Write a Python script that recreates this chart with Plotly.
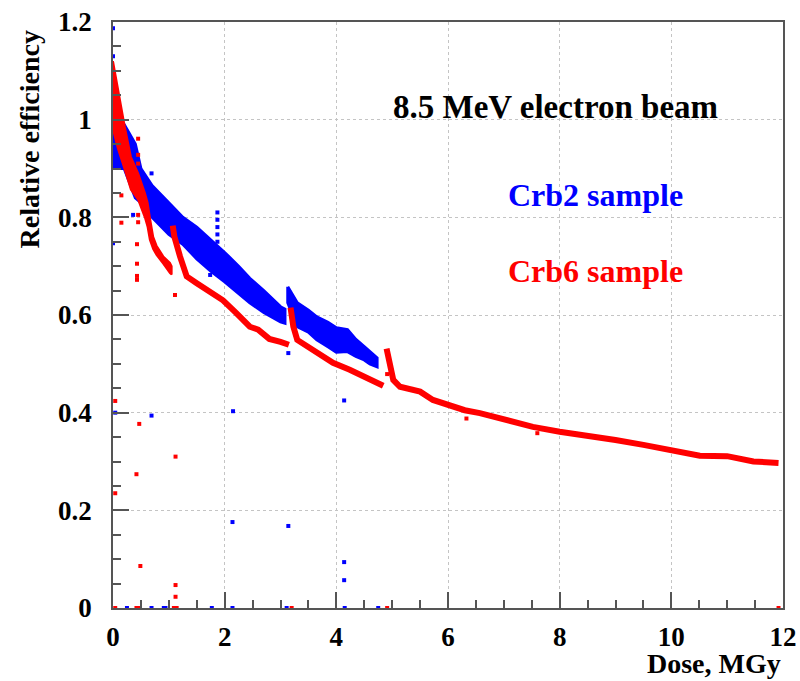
import plotly.graph_objects as go

# Crb2 sample (blue) - band, two segments
crb2_x1 = [0.0, 0.1, 0.2, 0.3, 0.4, 0.5, 0.7, 1.0, 1.25, 1.5, 1.75, 2.0, 2.25, 2.45, 2.7, 3.0, 3.08]
crb2_hi1 = [1.10, 1.00, 0.99, 0.97, 0.95, 0.90, 0.865, 0.83, 0.80, 0.78, 0.755, 0.728, 0.70, 0.675, 0.65, 0.617, 0.612]
crb2_lo1 = [0.90, 0.90, 0.90, 0.87, 0.84, 0.83, 0.80, 0.765, 0.745, 0.715, 0.69, 0.668, 0.645, 0.625, 0.605, 0.586, 0.583]
crb2_x2 = [3.13, 3.3, 3.5, 3.65, 3.85, 4.0, 4.2, 4.35, 4.5, 4.6, 4.73]
crb2_hi2 = [0.658, 0.625, 0.61, 0.596, 0.585, 0.574, 0.57, 0.55, 0.535, 0.525, 0.512]
crb2_lo2 = [0.625, 0.576, 0.565, 0.549, 0.535, 0.524, 0.525, 0.515, 0.508, 0.50, 0.494]

# Crb6 sample (red) - first part is a wide band, the rest a narrow track
crb6_x1 = [0.0, 0.09, 0.21, 0.32, 0.45, 0.57, 0.62, 0.66, 0.72, 0.78, 0.9, 1.02, 1.05]
crb6_hi1 = [1.12, 1.06, 0.986, 0.924, 0.89, 0.85, 0.83, 0.80, 0.76, 0.742, 0.72, 0.707, 0.70]
crb6_lo1 = [0.98, 0.94, 0.898, 0.857, 0.836, 0.80, 0.78, 0.754, 0.735, 0.723, 0.705, 0.686, 0.683]
crb6_x2 = [1.07, 1.1, 1.2, 1.32, 1.5, 1.68, 1.97, 2.2, 2.45, 2.6, 2.8, 3.0, 3.15]
crb6_y2 = [0.783, 0.76, 0.72, 0.679, 0.665, 0.651, 0.63, 0.605, 0.576, 0.57, 0.551, 0.545, 0.539]
crb6_x3 = [3.18, 3.23, 3.3, 3.5, 3.65, 3.94, 4.24, 4.54, 4.7, 4.84]
crb6_y3 = [0.615, 0.576, 0.549, 0.535, 0.522, 0.502, 0.488, 0.471, 0.463, 0.455]
crb6_x4 = [4.9, 4.95, 5.02, 5.14, 5.3, 5.5, 5.73, 6.0, 6.3, 6.57, 7.0, 7.52, 8.0, 8.48,
           9.0, 9.5, 10.0, 10.51, 11.0, 11.47, 11.92]
crb6_y4 = [0.531, 0.50, 0.467, 0.453, 0.449, 0.443, 0.426, 0.416, 0.405, 0.399, 0.385, 0.371,
           0.361, 0.354, 0.344, 0.334, 0.323, 0.312, 0.311, 0.30, 0.297]

# isolated points
crb2_out_x = [0.0, 0.0, 0.0, 0.69, 0.36, 0.04, 0.69, 2.15, 2.14, 3.14, 3.14, 4.14, 4.14, 4.14,
              1.87, 1.87, 1.87, 1.87, 1.87, 1.87, 1.74,
              0.25, 0.69, 0.91, 0.94, 1.77, 2.14, 3.11, 4.15, 4.75]
crb2_out_y = [1.187, 1.13, 0.747, 0.89, 0.805, 0.40, 0.394, 0.403, 0.176, 0.168, 0.522, 0.425, 0.094, 0.057,
              0.735, 0.75, 0.765, 0.78, 0.795, 0.81, 0.682,
              0.0, 0.0, 0.0, 0.0, 0.0, 0.0, 0.0, 0.0, 0.0]
crb6_out_x = [0.04, 0.04, 0.47, 0.42, 0.49, 1.12, 1.12, 1.12, 4.91,
              0.45, 0.45, 0.45, 0.15, 0.15, 0.45, 0.45, 0.43, 0.43, 0.43, 0.43, 1.11,
              6.33, 7.6,
              0.04, 0.42, 0.48, 1.09, 1.14, 3.2, 4.91, 11.92]
crb6_out_y = [0.424, 0.235, 0.377, 0.274, 0.086, 0.31, 0.047, 0.023, 0.479,
              0.961, 0.928, 0.91, 0.845, 0.789, 0.805, 0.79, 0.745, 0.705, 0.68, 0.672, 0.641,
              0.388, 0.358,
              0.0, 0.0, 0.0, 0.0, 0.0, 0.0, 0.0, 0.0]

BLUE = "#0000ff"
RED = "#ff0000"
FONT = "Liberation Serif"


def band(segments):
    # closed outline of each band segment, segments split by None
    xs, ys = [], []
    for x, hi, lo in segments:
        xs += x + x[::-1] + [x[0], None]
        ys += hi + lo[::-1] + [hi[0], None]
    return xs, ys


fig = go.Figure()

bx, by = band([(crb2_x1, crb2_hi1, crb2_lo1), (crb2_x2, crb2_hi2, crb2_lo2)])
fig.add_trace(go.Scatter(x=bx, y=by, mode="lines", fill="toself", fillcolor=BLUE,
                         line=dict(color=BLUE, width=3), hoverinfo="skip"))
fig.add_trace(go.Scatter(x=crb2_out_x, y=crb2_out_y, mode="markers",
                         marker=dict(color=BLUE, size=4, symbol="square")))

rx, ry = band([(crb6_x1, crb6_hi1, crb6_lo1)])
fig.add_trace(go.Scatter(x=rx, y=ry, mode="lines", fill="toself", fillcolor=RED,
                         line=dict(color=RED, width=2), hoverinfo="skip"))
rlx = crb6_x2 + [None] + crb6_x3 + [None] + crb6_x4
rly = crb6_y2 + [None] + crb6_y3 + [None] + crb6_y4
fig.add_trace(go.Scatter(x=rlx, y=rly, mode="lines", connectgaps=False,
                         line=dict(color=RED, width=6)))
fig.add_trace(go.Scatter(x=crb6_out_x, y=crb6_out_y, mode="markers",
                         marker=dict(color=RED, size=4, symbol="square")))

tickfont = dict(family=FONT, size=27, color="black", weight="bold")
axis_common = dict(
    showgrid=True, gridcolor="#c4c4c4", griddash="dot", gridwidth=1,
    showline=True, linecolor="#555555", linewidth=1.5, mirror=True,
    ticks="inside", ticklen=16, tickwidth=1.5, tickcolor="#555555",
    zeroline=False, tickfont=tickfont, automargin=False, ticklabeloverflow="allow",
)

fig.update_xaxes(range=[0, 12], dtick=2, ticklabelstandoff=4,
                 minor=dict(dtick=0.5, ticks="inside", ticklen=8, tickcolor="#555555", showgrid=False),
                 **axis_common)
fig.update_yaxes(range=[0, 1.2], dtick=0.2, ticklabelstandoff=14,
                 minor=dict(dtick=0.05, ticks="inside", ticklen=8, tickcolor="#555555", showgrid=False),
                 **axis_common)

fig.add_annotation(x=7.92, y=1.025, xref="x", yref="y", text="8.5 MeV electron beam", showarrow=False,
                   font=dict(family=FONT, size=33, color="black", weight="bold"))
fig.add_annotation(x=8.64, y=0.845, xref="x", yref="y", text="Crb2 sample", showarrow=False,
                   font=dict(family=FONT, size=32, color=BLUE, weight="bold"))
fig.add_annotation(x=8.64, y=0.69, xref="x", yref="y", text="Crb6 sample", showarrow=False,
                   font=dict(family=FONT, size=32, color=RED, weight="bold"))
fig.add_annotation(x=1.0, y=-0.094, xref="paper", yref="paper", xanchor="right", yanchor="middle",
                   text="Dose, MGy", showarrow=False,
                   font=dict(family=FONT, size=28, color="black", weight="bold"))
fig.add_annotation(x=-0.125, y=0.80, xref="paper", yref="paper", textangle=-90,
                   xanchor="center", yanchor="middle",
                   text="Relative efficiency", showarrow=False,
                   font=dict(family=FONT, size=28, color="black", weight="bold"))

fig.update_layout(
    width=800, height=681,
    margin=dict(l=113, r=17, t=22, b=73),
    plot_bgcolor="white", paper_bgcolor="white",
    showlegend=False,
)

# drop the page's default body margin so the figure fills the window exactly
fig.write_html("out.html", config={"displayModeBar": False},
               post_script="document.body.style.margin='0';document.body.style.overflow='hidden';")
